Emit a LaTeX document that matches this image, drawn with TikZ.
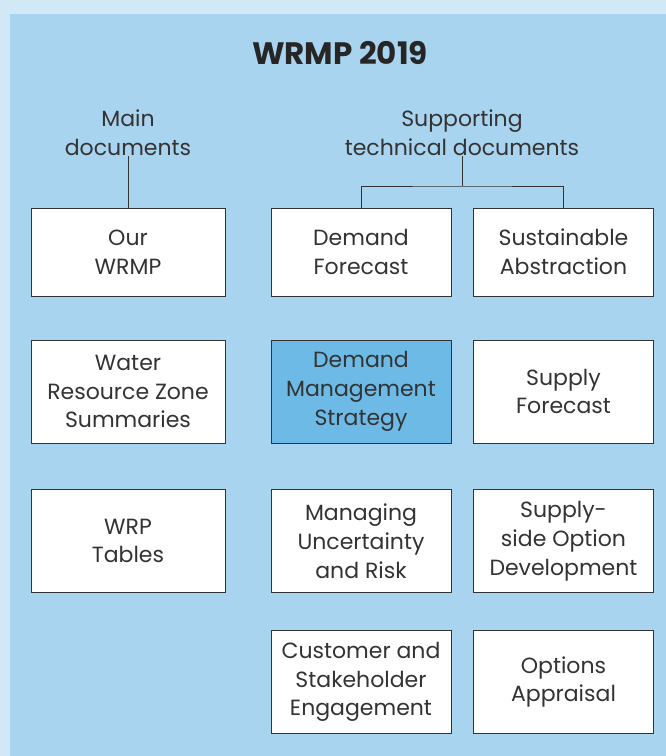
\documentclass[tikz,border=0pt]{standalone}
\usepackage{fontspec}
\setmainfont{Poppins}
\usepackage{tikz}
\usetikzlibrary{positioning}
\definecolor{outerblue}{HTML}{D3E8F6}
\definecolor{panelblue}{HTML}{A9D4EF}
\definecolor{hiblue}{HTML}{6EBAE6}
\definecolor{linegray}{HTML}{333333}
\tikzset{x=1pt, y=-1pt,
docbox/.style={ % Sets the properties for each document box
draw=linegray,
line width=0.9pt,
fill=white,
align=center,
inner sep=2pt,
font=\fontsize{22}{28.8}\selectfont,
text=linegray},
leftbox/.style={docbox, minimum width=194pt, minimum height=103pt},
rightbox/.style={docbox, minimum width=180pt, minimum height=103pt},
heading/.style={align=center, font=\fontsize{22}{28.8}\selectfont, text=linegray},
link/.style={draw=linegray, line width=0.9pt}}

\begin{document}
\begin{tikzpicture}
\fill[outerblue] (0,0) rectangle (666,756);
\fill[panelblue] (10,14) rectangle (666,756);
\useasboundingbox (0,0) rectangle (666,756);
\node[font=\bfseries\fontsize{31}{36}\selectfont, text=black!85] (title) at (340,53) {WRMP 2019};
\node[heading] (main) at (128,133) {Main\\documents};
\node[heading] (supp) at (462,133) {Supporting\\technical documents};
% main documents
\node[leftbox, minimum height=88pt] (wrmp) at (128,252) {Our\\WRMP};
\node[leftbox] (zones) at (128,391.5) {Water\\Resource Zone\\Summaries};
\node[leftbox] (tables) at (128,541) {WRP\\Tables};
% supporting documents
\node[rightbox, minimum height=88pt] (demand) at (361,252) {Demand\\Forecast};
\node[rightbox, minimum height=88pt] (abstr) at (563.5,252) {Sustainable\\Abstraction};
\node[rightbox, fill=hiblue] (dms) at (361,391.5) {Demand\\Management\\Strategy};
\node[rightbox] (supply) at (563.5,391.5) {Supply\\Forecast};
\node[rightbox] (risk) at (361,541) {Managing\\Uncertainty\\and Risk};
\node[rightbox] (option) at (563.5,541) {Supply-\\side Option\\Development};
\node[rightbox] (cust) at (361,682) {Customer and\\Stakeholder\\Engagement};
\node[rightbox] (appr) at (563.5,682) {Options\\Appraisal};
% connectors
\coordinate (fork) at (462,186);
\draw[link] (main.south) ++(0,-3) -- (wrmp.north);
\draw[link] (supp.south) ++(0,-3) -- (fork);
\draw[link] (demand.north) |- (fork) -| (abstr.north);
\end{tikzpicture}
\end{document}
